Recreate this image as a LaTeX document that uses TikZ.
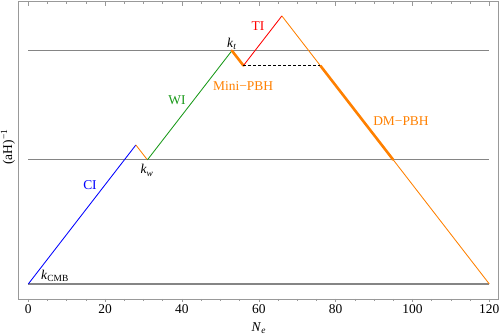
\documentclass[tikz,border=0pt]{standalone}
\usepackage{fontspec}
\setmainfont{Liberation Serif}
\definecolor{myorange}{rgb}{1,0.5,0}
\definecolor{mygreen}{rgb}{0.1,0.6,0.1}
\definecolor{framegray}{gray}{0.6}
\definecolor{levelgray}{gray}{0.52}
\begin{document}
\begin{tikzpicture}[x=3.842bp,y=4.964bp,
  every node/.style={font=\fontsize{13.5}{15}\selectfont, inner sep=0pt},
  frameline/.style={draw=framegray, line width=0.6bp},
  levelline/.style={draw=levelgray, line width=1.1bp},
  curveline/.style={line width=0.85bp},
  thickseg/.style={draw=myorange, line width=2.6bp},
  dashseg/.style={draw=black, line width=0.7bp, dash pattern=on 3bp off 2bp}]
\useasboundingbox (-7.366,-10.274) rectangle (122.78,57.21);
% frame
\coordinate (fSW) at (-2.6,-3.02);
\coordinate (fNE) at (122.4,56.9);
\draw[frameline] (fSW) rectangle (fNE);
\foreach \n in {5,10,...,115} {
  \draw[frameline] (\n,-3.02) -- ++(0,-2bp);
  \draw[frameline] (\n,56.9) -- ++(0,-2.5bp);
}
\foreach \n in {0,20,...,120} {
  \draw[frameline] (\n,-3.02) -- ++(0,-3bp);
  \draw[frameline] (\n,56.9) -- ++(0,-4.5bp);
  \node[anchor=base] (t\n) at (\n,-5.9) {\n};
}
\node[anchor=base] (xlab) at (60,-9.6) {\textit{N}\textsubscript{\textit{e}}};
\node[rotate=90] (ylab) at (-5.3,27.6) {(aH)\textsuperscript{−1}};
% level lines
\coordinate (l0a) at (0,0);   \coordinate (l0b) at (120,0);
\coordinate (l1a) at (0,25);  \coordinate (l1b) at (120,25);
\coordinate (l2a) at (0,47);  \coordinate (l2b) at (120,47);
\draw[levelline] (l0a) -- (l0b);
\draw[levelline] (l1a) -- (l1b);
\draw[levelline] (l2a) -- (l2b);
% vertices
\coordinate (A) at (0,0);
\coordinate (B) at (28,28);
\coordinate (C) at (31,25);
\coordinate (D) at (53,47);
\coordinate (E) at (56,44);
\coordinate (F) at (66,54);
\coordinate (G) at (120,0);
\coordinate (H) at (76,44);
\coordinate (I) at (95,25);
\draw[curveline, blue] (A) -- (B);
\draw[curveline, myorange] (B) -- (C);
\draw[curveline, mygreen] (C) -- (D);
\draw[thickseg, line cap=round] (D) -- (E);
\draw[curveline, red] (E) -- (F);
\draw[curveline, myorange] (F) -- (G);
\draw[thickseg] (H) -- (I);
\draw[dashseg] (E) -- (H);
% labels
\node (kcmb) at (6.95,1.7) {\textit{k}\textsubscript{CMB}};
\node[text=blue] (ci) at (16.06,19.94) {CI};
\node (kw) at (30.9,22.9) {\textit{k}\textsubscript{\textit{w}}};
\node[text=mygreen] (wi) at (38.7,37.07) {WI};
\node (kt) at (53.0,48.3) {\textit{k}\textsubscript{\textit{t}}};
\node[text=red] (ti) at (59.8,52.0) {TI};
\node[text=myorange] (mini) at (55.9,39.9) {Mini−PBH};
\node[text=myorange] (dm) at (97.0,32.8) {DM−PBH};
\end{tikzpicture}
\end{document}
